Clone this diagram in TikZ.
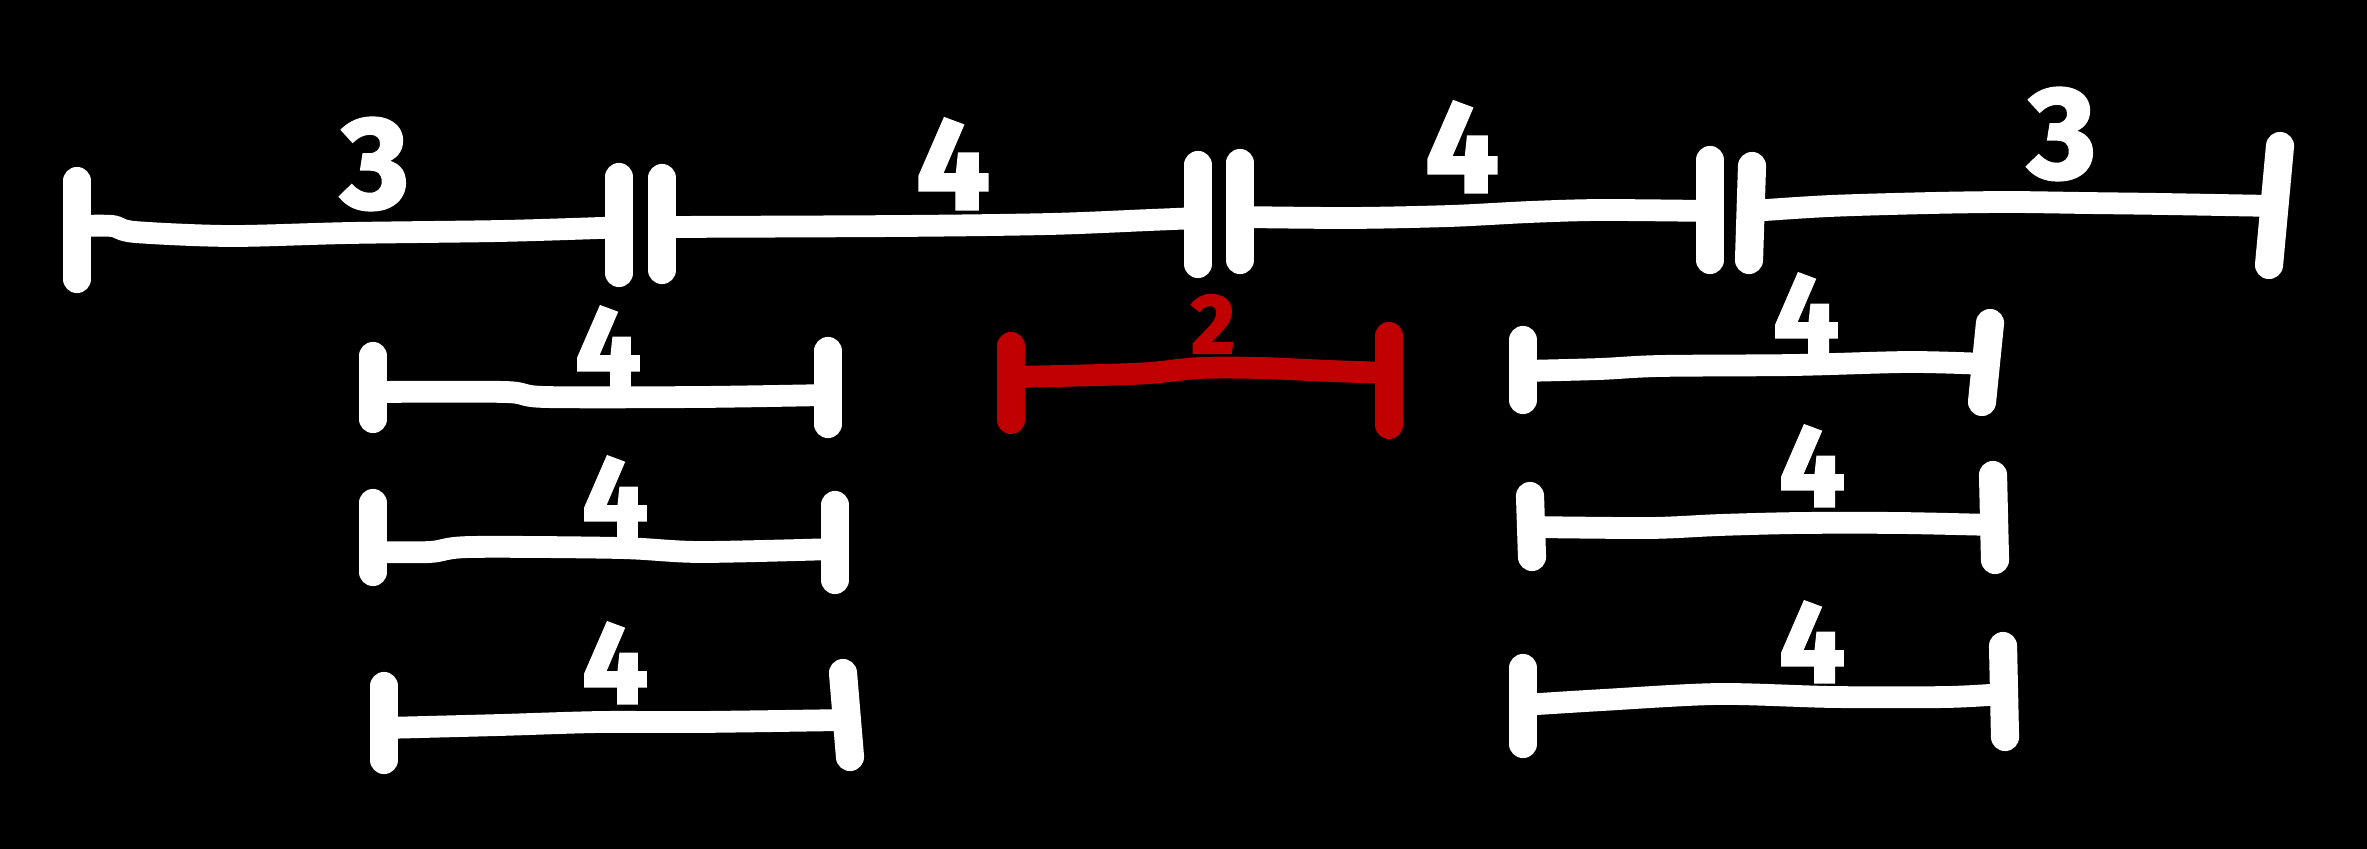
\documentclass[tikz,border=0pt]{standalone}
\usepackage{fontspec}
\setmainfont{Fira Sans}
\newfontfamily\digitfont{Fira Sans}[UprightFont={* Bold}, UprightFeatures={FakeBold=2.5}]
\definecolor{redmark}{RGB}{192,0,0}
\begin{document}
\begin{tikzpicture}[x=0.01cm,y=-0.01cm,
  tk/.style={line width=8pt, line cap=round, draw=white},
  ln/.style={line width=6.2pt, draw=white},
  lbl/.style={text=white, inner sep=0pt, font=\fontsize{37}{37}\digitfont\selectfont},
  lbls/.style={text=white, inner sep=0pt, font=\fontsize{33}{33}\digitfont\selectfont},
  redtk/.style={tk, draw=redmark},
  redln/.style={ln, draw=redmark},
  redlbl/.style={text=redmark, inner sep=0pt, font=\fontsize{24}{24}\digitfont\selectfont}]
\useasboundingbox (0,0) rectangle (2367,849);
\fill[black] (0,0) rectangle (2367,849);

% ---- top row ----
\draw[ln] plot[smooth, tension=0.5] coordinates {(77,226) (112,226) (135,232) (230,236) (350,233) (500,231) (600,228) (620,227)};
\draw[ln] plot[smooth, tension=0.5] coordinates {(662,227) (900,226) (1050,224) (1150,220) (1198,218)};
\draw[ln] plot[smooth, tension=0.5] coordinates {(1240,217) (1350,218) (1450,216) (1530,212) (1600,210) (1710,211)};
\draw[ln] plot[smooth, tension=0.5] coordinates {(1752,211) (1830,206) (1932,203) (2009,202) (2085,203) (2162,204) (2275,206)};

\coordinate (A1) at (77,181); \coordinate (A2) at (77,279);
\coordinate (B1) at (619,177); \coordinate (B2) at (619,273);
\coordinate (B3) at (662,178); \coordinate (B4) at (662,270);
\coordinate (C1) at (1198,165); \coordinate (C2) at (1198,264);
\coordinate (C3) at (1240,163); \coordinate (C4) at (1240,260);
\coordinate (D1) at (1710,160); \coordinate (D2) at (1710,260);
\coordinate (D3) at (1752,166); \coordinate (D4) at (1749,260);
\coordinate (E1) at (2280,146); \coordinate (E2) at (2269,265);
\draw[tk] (A1) -- (A2);
\draw[tk] (B1) -- (B2);
\draw[tk] (B3) -- (B4);
\draw[tk] (C1) -- (C2);
\draw[tk] (C3) -- (C4);
\draw[tk] (D1) -- (D2);
\draw[tk] (D3) -- (D4);
\draw[tk] (E1) -- (E2);

\node[lbl] (tAB) at (375,164) {3};
\node[lbl] (tBC) at (953,164) {4};
\node[lbl] (tCD) at (1462,147) {4};
\node[lbl] (tDE) at (2062,134) {3};

% ---- left column ----
\draw[ln] plot[smooth, tension=0.5] coordinates {(373,392) (505,392) (545,397) (700,397) (828,395)};
\draw[tk] (373,356) coordinate (L2a) -- (373,419) coordinate (L2b);
\draw[tk] (828,351) coordinate (L2c) -- (828,424) coordinate (L2d);
\node[lbls] (l2) at (608,347) {4};

\draw[ln] plot[smooth, tension=0.5] coordinates {(373,552) (430,552) (470,547) (620,548) (700,552) (835,549)};
\draw[tk] (373,503) coordinate (L3a) -- (373,572) coordinate (L3b);
\draw[tk] (835,505) coordinate (L3c) -- (835,580) coordinate (L3d);
\node[lbls] (l3) at (615,497) {4};

\draw[ln] plot[smooth, tension=0.5] coordinates {(384,728) (500,725) (600,722) (700,722) (846,720)};
\draw[tk] (384,686) coordinate (L4a) -- (384,760) coordinate (L4b);
\draw[tk] (843,673) coordinate (L4c) -- (850,757) coordinate (L4d);
\node[lbls] (l4) at (615,663) {4};

% ---- red ----
\draw[redln] plot[smooth, tension=0.5] coordinates {(1011,377) (1100,375) (1150,373) (1200,368) (1260,368) (1330,371) (1389,373)};
\draw[redtk] (1011,346) coordinate (Ra) -- (1011,420) coordinate (Rb);
\draw[redtk] (1389,336) coordinate (Rc) -- (1389,425) coordinate (Rd);
\node[redlbl] (r2) at (1213,324) {2};

% ---- right column ----
\draw[ln] plot[smooth, tension=0.5] coordinates {(1523,371) (1600,369) (1660,366) (1794,365) (1909,362) (1986,364)};
\draw[tk] (1523,340) coordinate (R2a) -- (1523,400) coordinate (R2b);
\draw[tk] (1990,323) coordinate (R2c) -- (1982,402) coordinate (R2d);
\node[lbls] (rr2) at (1806,314) {4};

\draw[ln] plot[smooth, tension=0.5] coordinates {(1531,527) (1650,528) (1720,525) (1800,523) (1900,523) (1993,525)};
\draw[tk] (1530,496) coordinate (R3a) -- (1532,557) coordinate (R3b);
\draw[tk] (1993,475) coordinate (R3c) -- (1995,560) coordinate (R3d);
\node[lbls] (rr3) at (1812,466) {4};

\draw[ln] plot[smooth, tension=0.5] coordinates {(1523,705) (1603,700) (1718,694) (1833,697) (1947,697) (2003,694)};
\draw[tk] (1523,668) coordinate (R4a) -- (1523,744) coordinate (R4b);
\draw[tk] (2003,646) coordinate (R4c) -- (2005,737) coordinate (R4d);
\node[lbls] (rr4) at (1812,642) {4};
\end{tikzpicture}
\end{document}
